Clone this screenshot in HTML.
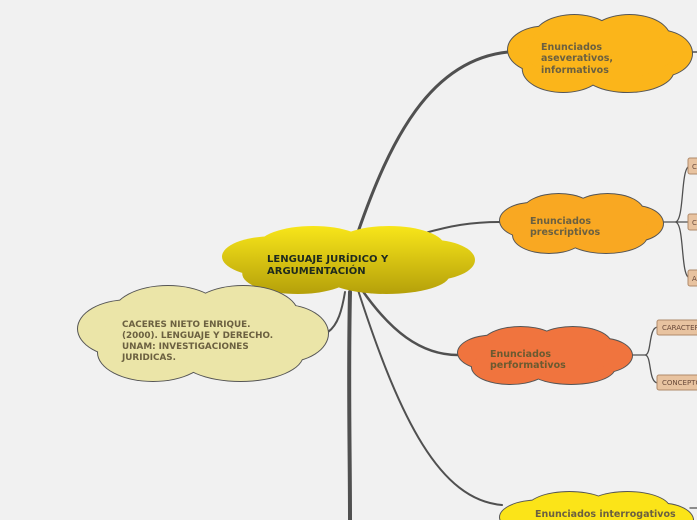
<!DOCTYPE html>
<html><head><meta charset="utf-8">
<style>
html,body{margin:0;padding:0;background:#f1f1f1;width:697px;height:520px;overflow:hidden}
svg{display:block;overflow:hidden}
text{font-family:"DejaVu Sans","Liberation Sans",sans-serif;font-weight:bold}
</style></head>
<body>
<svg id="s" width="697" height="520" viewBox="0 0 697 520" xmlns="http://www.w3.org/2000/svg">
<defs>
<linearGradient id="g" gradientUnits="userSpaceOnUse" x1="0" y1="226" x2="0" y2="294">
<stop offset="0" stop-color="#f8e61a"/><stop offset="1" stop-color="#b5a00a"/>
</linearGradient>
</defs>
<g fill="none" stroke="#505050" stroke-linecap="round">
<path d="M358,232 C390,140 430,60 508,52" stroke-width="3"/>
<path d="M425,233 C450,226 470,222 500,222" stroke-width="2"/>
<path d="M362,290 C390,330 420,355 458,355" stroke-width="2.5"/>
<path d="M358,290 C400,420 440,500 502,505" stroke-width="2"/>
<path d="M350,292 C348,380 350,450 350,520" stroke-width="4"/>
<path d="M345,292 C342,310 338,325 328,332" stroke-width="2"/>
<path d="M692,52 L697,52" stroke-width="1.5"/>
<path d="M663,222 L675,222 C685,222 680,166 690,166 M675,222 L690,222 M675,222 C685,222 680,278 690,278" stroke-width="1.3"/>
<path d="M632,355 L645,355 C652,355 648,327 658,327 M645,355 C652,355 648,383 658,383" stroke-width="1.3"/>
<path d="M690,508 L697,508" stroke-width="1.3"/>
</g>
<g id="clouds"></g>
<g fill="#e8c3a0" stroke="#b08a6a" stroke-width="1">
<rect x="688" y="158" width="20" height="16" rx="2"/>
<rect x="688" y="214" width="20" height="16" rx="2"/>
<rect x="688" y="270" width="20" height="16" rx="2"/>
<rect x="657" y="320" width="50" height="15" rx="2"/>
<rect x="657" y="375" width="50" height="15" rx="2"/>
</g>
<g font-size="7" fill="#6a4a3a">
<text x="692" y="169" style="font-weight:normal">C</text>
<text x="692" y="225" style="font-weight:normal">C</text>
<text x="692" y="281" style="font-weight:normal">A</text>
<text x="662" y="330" style="font-weight:normal">CARACTER</text>
<text x="662" y="385" style="font-weight:normal">CONCEPTO</text>
</g>
<g fill="#6b6040" font-size="9.5">
<text x="541" y="50">Enunciados</text>
<text x="541" y="61">aseverativos,</text>
<text x="541" y="73">informativos</text>
<text x="530" y="224">Enunciados</text>
<text x="530" y="235">prescriptivos</text>
<text x="490" y="357" fill="#6b5a30">Enunciados</text>
<text x="490" y="368" fill="#6b5a30">performativos</text>
<text x="535" y="517">Enunciados interrogativos</text>
</g>
<g fill="#6b6040" font-size="8.8">
<text x="122" y="327">CACERES NIETO ENRIQUE.</text>
<text x="122" y="338">(2000). LENGUAJE Y DERECHO.</text>
<text x="122" y="349">UNAM: INVESTIGACIONES</text>
<text x="122" y="360">JURIDICAS.</text>
</g>
<g fill="#1e2a1e" font-size="10">
<text x="267" y="262">LENGUAJE JURÍDICO Y</text>
<text x="267" y="274">ARGUMENTACIÓN</text>
</g>
</svg>
<script>
(function(){
var NS="http://www.w3.org/2000/svg";
var g=document.getElementById('clouds');
function cloud(x,y,w,h,fill,stroke){
 var e=[[.2,.45,.2,.3],[.36,.3,.22,.3],[.66,.3,.22,.3],[.82,.5,.18,.3],[.3,.7,.22,.3],[.65,.72,.25,.28],[.5,.5,.4,.35]];
 var grp=document.createElementNS(NS,'g');
 if(stroke){
  e.forEach(function(a){var el=document.createElementNS(NS,'ellipse');
   el.setAttribute('cx',x+a[0]*w);el.setAttribute('cy',y+a[1]*h);
   el.setAttribute('rx',a[2]*w+1);el.setAttribute('ry',a[3]*h+1);
   el.setAttribute('fill',stroke);grp.appendChild(el);});
 }
 e.forEach(function(a){var el=document.createElementNS(NS,'ellipse');
  el.setAttribute('cx',x+a[0]*w);el.setAttribute('cy',y+a[1]*h);
  el.setAttribute('rx',a[2]*w);el.setAttribute('ry',a[3]*h);
  el.setAttribute('fill',fill);grp.appendChild(el);});
 g.appendChild(grp);
}
cloud(222,226,253,68,'url(#g)',null);
cloud(508,15,184,77,'#fbb51a','#555');
cloud(500,194,163,59,'#f9a822','#555');
cloud(458,327,174,57,'#f0743e','#555');
cloud(500,492,193,56,'#fbe418','#555');
cloud(78,286,250,95,'#ebe5a8','#555');
})();
</script>
</body></html>
